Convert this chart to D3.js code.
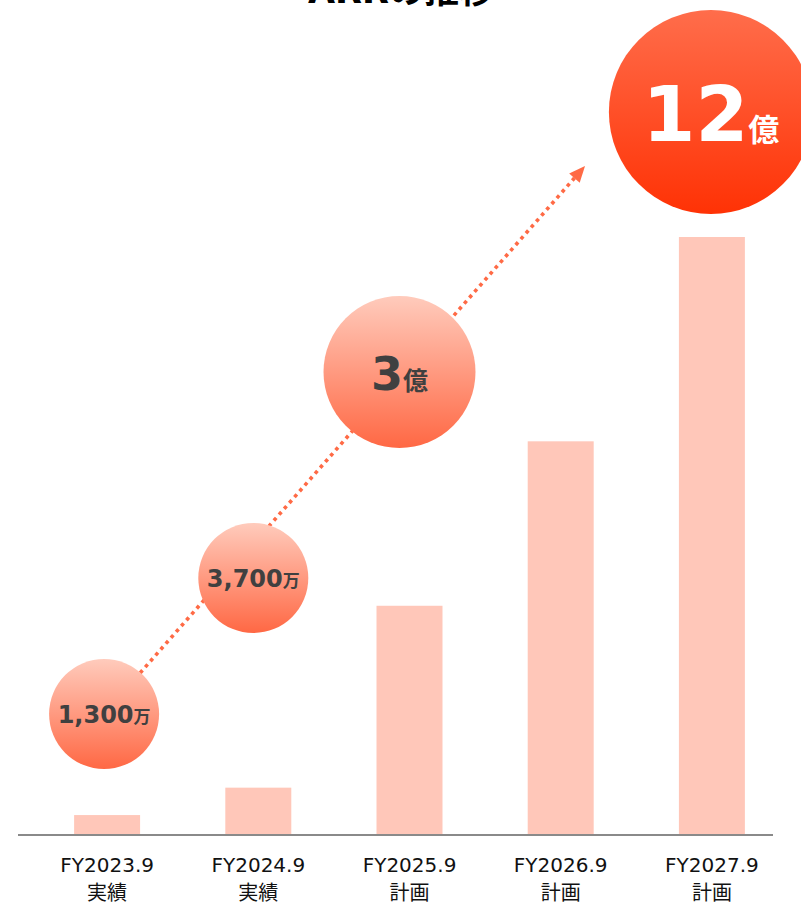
<!DOCTYPE html>
<html>
<head>
<meta charset="utf-8">
<script src="https://cdn.jsdelivr.net/npm/d3@7"></script>
<style>
  body { margin: 0; background: #fff; }
  svg { display: block; }
</style>
</head>
<body>
<script>
// data
const title = 'ARRの推移';
const categories = ['FY2023.9', 'FY2024.9', 'FY2025.9', 'FY2026.9', 'FY2027.9'];
const phases = ['実績', '実績', '計画', '計画', '計画'];
// bar heights, relative to the 12億 bar (bars are not drawn to scale in the original)
const barValues = [0.4, 0.95, 4.6, 7.9, 12];
// ARR callouts
const bubbleCats = ['FY2023.9', 'FY2024.9', 'FY2025.9', 'FY2027.9'];
const bubbleNumbers = ['1,300', '3,700', '3', '12'];
const bubbleUnits = ['万', '万', '億', '億'];

const width = 801;
const height = 905;
const baseY = 835;

const svg = d3.select('body').append('svg')
  .attr('width', width)
  .attr('height', height);

const defs = svg.append('defs');
const light = defs.append('linearGradient')
  .attr('id', 'gLight').attr('x1', 0).attr('y1', 0).attr('x2', 0).attr('y2', 1);
light.append('stop').attr('offset', '0%').attr('stop-color', '#ffcbbc');
light.append('stop').attr('offset', '100%').attr('stop-color', '#ff6844');
const strong = defs.append('linearGradient')
  .attr('id', 'gStrong').attr('x1', 0).attr('y1', 0).attr('x2', 0).attr('y2', 1);
strong.append('stop').attr('offset', '0%').attr('stop-color', '#ff6d4b');
strong.append('stop').attr('offset', '100%').attr('stop-color', '#ff3205');

const xScale = d3.scaleBand()
  .domain(categories)
  .range([31.5, 787.5])
  .paddingInner(0.5636)
  .paddingOuter(0.2818);

const yScale = d3.scaleLinear()
  .domain([0, 12])
  .range([baseY, 237]);

// title (cut off at the top edge, as in the original)
svg.append('text')
  .attr('x', 401)
  .attr('y', 3)
  .attr('text-anchor', 'middle')
  .style('font-family', '"DejaVu Sans", "Noto Sans CJK JP", sans-serif')
  .style('font-weight', 'bold')
  .style('font-size', '35px')
  .attr('fill', '#000')
  .text(title);

// bars
svg.selectAll('rect.bar')
  .data(barValues)
  .enter()
  .append('rect')
  .attr('class', 'bar')
  .attr('x', (d, i) => xScale(categories[i]))
  .attr('width', xScale.bandwidth())
  .attr('y', d => yScale(d))
  .attr('height', d => yScale(0) - yScale(d))
  .attr('fill', '#ffc7b9');

// baseline
svg.append('line')
  .attr('x1', 18).attr('x2', 773)
  .attr('y1', baseY).attr('y2', baseY)
  .attr('stroke', '#8a8a8a')
  .attr('stroke-width', 2);

// x axis labels (two lines)
const xAxis = d3.axisBottom(xScale).tickSize(0).tickPadding(0);
const axisG = svg.append('g')
  .attr('transform', `translate(0, ${baseY})`)
  .call(xAxis);
axisG.select('.domain').remove();
axisG.selectAll('.tick text').each(function (d, i) {
  const t = d3.select(this);
  t.text(null)
    .attr('y', 0)
    .attr('dy', null)
    .attr('fill', '#111')
    .style('font-family', '"DejaVu Sans", "Noto Sans CJK JP", sans-serif')
    .style('font-size', '20px');
  t.append('tspan').attr('x', 0).attr('y', 37).text(d);
  t.append('tspan').attr('x', 0).attr('y', 65)
    .style('font-family', '"Noto Sans CJK JP", sans-serif')
    .style('font-size', '20px')
    .text(phases[i]);
});

// callout layout: offset from band centre, centre y, radius, font sizes
const bubbleLayout = [
  { dx: -3, cy: 714, r: 55, numSize: 24, unitSize: 17, base: 9, fill: 'url(#gLight)', color: '#404040' },
  { dx: -5, cy: 578, r: 55, numSize: 24, unitSize: 17, base: 9, fill: 'url(#gLight)', color: '#404040' },
  { dx: -10, cy: 372, r: 76, numSize: 46, unitSize: 25, base: 18, fill: 'url(#gLight)', color: '#404040' },
  { dx: -1, cy: 112, r: 102, numSize: 76, unitSize: 31, base: 29, fill: 'url(#gStrong)', color: '#ffffff' }
];
const bubbles = bubbleCats.map((c, i) => Object.assign({
  cx: xScale(c) + xScale.bandwidth() / 2 + bubbleLayout[i].dx,
  number: bubbleNumbers[i],
  unit: bubbleUnits[i]
}, bubbleLayout[i]));

// dotted trend arrow from the first callout up to the right
const start = [bubbles[0].cx, bubbles[0].cy];
const tip = [585, 166];
const ang = Math.atan2(tip[1] - start[1], tip[0] - start[0]);
const headLen = 16;
svg.append('line')
  .attr('x1', start[0]).attr('y1', start[1])
  .attr('x2', tip[0] - headLen * Math.cos(ang))
  .attr('y2', tip[1] - headLen * Math.sin(ang))
  .attr('stroke', '#ff6a45')
  .attr('stroke-width', 3.6)
  .attr('stroke-dasharray', '3.6 4.2');
svg.append('path')
  .attr('d', `M0,0 L${-headLen},-7 L${-headLen},7 Z`)
  .attr('transform', `translate(${tip[0]}, ${tip[1]}) rotate(${ang * 180 / Math.PI})`)
  .attr('fill', '#ff6a45');

// callout circles
const bg = svg.selectAll('g.bubble')
  .data(bubbles)
  .enter()
  .append('g')
  .attr('class', 'bubble')
  .attr('transform', d => `translate(${d.cx}, ${d.cy})`);

bg.append('circle')
  .attr('r', d => d.r)
  .attr('fill', d => d.fill);

const label = bg.append('text')
  .attr('text-anchor', 'middle')
  .attr('y', d => d.base)
  .attr('fill', d => d.color)
  .style('font-weight', 'bold');
label.append('tspan')
  .style('font-family', '"DejaVu Sans", sans-serif')
  .style('font-size', d => d.numSize + 'px')
  .text(d => d.number);
label.append('tspan')
  .style('font-family', '"Noto Sans CJK JP", sans-serif')
  .style('font-size', d => d.unitSize + 'px')
  .text(d => d.unit);
</script>
</body>
</html>
